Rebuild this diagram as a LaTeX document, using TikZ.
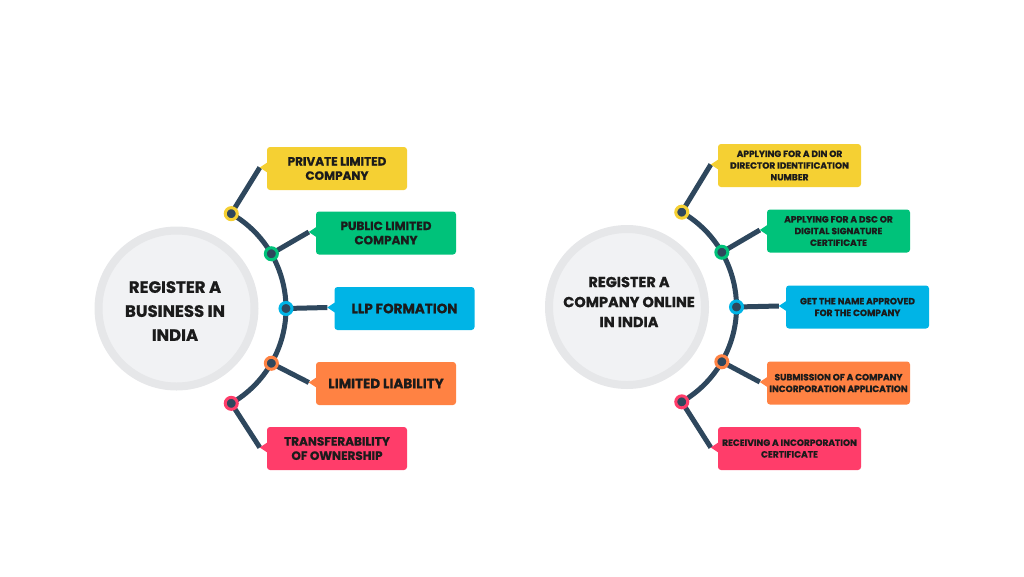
\documentclass[tikz,border=0pt]{standalone}
\usepackage{fontspec}
\setmainfont{Poppins}[BoldFeatures={FakeBold=0.8}]
\usetikzlibrary{calc}
\definecolor{cyel}{HTML}{F5D033}
\definecolor{cgrn}{HTML}{00C27A}
\definecolor{cblu}{HTML}{00B4E6}
\definecolor{corg}{HTML}{FF8243}
\definecolor{cpnk}{HTML}{FF3D6A}
\definecolor{dark}{HTML}{2E475D}
\definecolor{ringout}{HTML}{E6E7E9}
\definecolor{ringin}{HTML}{F1F2F4}
\definecolor{txt}{HTML}{1B1B1B}
\begin{document}
\begin{tikzpicture}[x=1pt,y=-1pt,
  ring/.style={circle, fill=ringin, draw=ringout, line width=8pt, minimum size=156pt, inner sep=0pt},
  title/.style={align=center, text=txt, font=\fontsize{16.5}{24}\selectfont\bfseries},
  titleR/.style={align=center, text=txt, font=\fontsize{14.5}{20}\selectfont\bfseries},
  spine/.style={draw=dark, line width=5pt},
  conn/.style={draw=dark, line width=5pt},
  dot/.style={circle, draw=#1, fill=dark, line width=3pt, minimum size=12pt, inner sep=0pt},
  boxL/.style={fill=#1, rounded corners=3pt, minimum width=140pt, minimum height=43pt, inner sep=2pt,
    align=center, text=txt, font=\fontsize{12}{14.3}\selectfont\bfseries},
  bigL/.style={font=\fontsize{13.5}{16}\selectfont\bfseries},
  boxR/.style={fill=#1, rounded corners=3pt, minimum width=143pt, minimum height=43pt, inner sep=1pt,
    align=center, text=txt, font=\fontsize{9}{11.7}\selectfont\bfseries},
]
\useasboundingbox (0,0) rectangle (1024,576);

% ---------------- LEFT ----------------
\node[ring] (cL) at (176.5,308.5) {};
\node[title] (tL) at (175,311) {REGISTER A\\BUSINESS IN\\INDIA};
\draw[spine] ($(cL.center)+(-60:109.5)$) arc[start angle=-60, end angle=60, radius=109.5];

\node[boxL=cyel] (bL1) at (337,168.5) {PRIVATE LIMITED\\COMPANY};
\node[boxL=cgrn] (bL2) at (386,233) {PUBLIC LIMITED\\COMPANY};
\node[boxL=cblu, bigL] (bL3) at (404.5,308.5) {LLP FORMATION};
\node[boxL=corg, bigL] (bL4) at (386,383.5) {LIMITED LIABILITY};
\node[boxL=cpnk] (bL5) at (337,448.5) {TRANSFERABILITY\\OF OWNERSHIP};

\foreach \i/\a/\c in {1/-60/cyel,2/-30/cgrn,3/0/cblu,4/30/corg,5/60/cpnk}{
  \coordinate (pL\i) at ($(cL.center)+(\a:109.5)$);
  \coordinate (kL\i) at ($(bL\i.west)+(-7,-1)$);
  \draw[conn] (pL\i) -- (kL\i);
  \fill[\c] ($(bL\i.west)+(0.5,-6)$) -- (kL\i) -- ($(bL\i.west)+(0.5,4)$) -- cycle;
  \node[dot=\c] (dL\i) at (pL\i) {};
}

% ---------------- RIGHT ----------------
\node[ring] (cR) at (627,307) {};
\node[titleR] (tR) at (629,302) {REGISTER A\\COMPANY ONLINE\\IN INDIA};
\draw[spine] ($(cR.center)+(-60:109.5)$) arc[start angle=-60, end angle=60, radius=109.5];

\node[boxR=cyel] (bR1) at (789.5,165.5) {APPLYING FOR A DIN OR\\DIRECTOR IDENTIFICATION\\NUMBER};
\node[boxR=cgrn] (bR2) at (838.5,231) {APPLYING FOR A DSC OR\\DIGITAL SIGNATURE\\CERTIFICATE};
\node[boxR=cblu] (bR3) at (857.5,307) {GET THE NAME APPROVED\\FOR THE COMPANY};
\node[boxR=corg] (bR4) at (838.5,383) {SUBMISSION OF A COMPANY\\INCORPORATION APPLICATION};
\node[boxR=cpnk] (bR5) at (789.5,448.5) {RECEIVING A INCORPORATION\\CERTIFICATE};

\foreach \i/\a/\c in {1/-60/cyel,2/-30/cgrn,3/0/cblu,4/30/corg,5/60/cpnk}{
  \coordinate (pR\i) at ($(cR.center)+(\a:109.5)$);
  \coordinate (kR\i) at ($(bR\i.west)+(-7,-1)$);
  \draw[conn] (pR\i) -- (kR\i);
  \fill[\c] ($(bR\i.west)+(0.5,-6)$) -- (kR\i) -- ($(bR\i.west)+(0.5,4)$) -- cycle;
  \node[dot=\c] (dR\i) at (pR\i) {};
}
\end{tikzpicture}
\end{document}
